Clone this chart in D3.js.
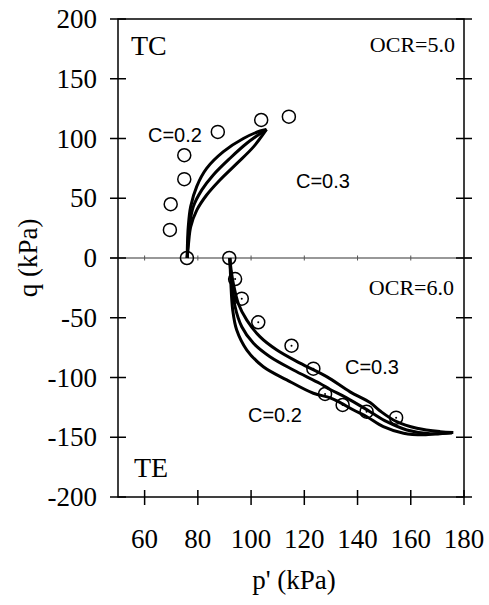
<!DOCTYPE html>
<html>
<head>
<meta charset="utf-8">
<script src="https://d3js.org/d3.v7.min.js"></script>
<style>
    body { margin: 0; background: #fff; }
</style>
</head>
<body>
<div id="chart"></div>
<script>
/*
----------------------------------------------------
    Data
----------------------------------------------------
*/
var xTicks = [60, 80, 100, 120, 140, 160, 180];
var yTicks = [-200, -150, -100, -50, 0, 50, 100, 150, 200];

// TC test, OCR = 5.0 : measured points
var tcPoints = [[75.9, 0], [69.5, 23.5], [69.8, 45], [74.9, 66], [74.9, 86],
    [87.5, 105.5], [103.8, 115.5], [114.2, 118.3]];

// TE test, OCR = 6.0 : measured points (dotted circles)
var tePoints = [[91.8, 0], [94, -17.6], [96.5, -34], [102.7, -53.8], [115.2, -73.4],
    [123.4, -92.6], [127.8, -113.8], [134.4, -123], [143.4, -128.6], [154.5, -133.6]];

// TC simulated paths, C = 0.2 / 0.25 / 0.3
var tcC02 = [[76, 0], [76.1, 12], [76.4, 26], [77.3, 43], [79.6, 60], [83.3, 75],
    [89.6, 89], [97.1, 100], [103.4, 106.3], [105.8, 107.6]];
var tcC025 = [[76, 0], [76.3, 12], [76.8, 26], [78.3, 43], [81.5, 57], [85.8, 69.5],
    [92.1, 83.5], [98.4, 96], [104.3, 105.5], [105.8, 107.6]];
var tcC03 = [[76, 0], [76.5, 12], [77.3, 26], [79.6, 40], [83.3, 52.7], [88.3, 65.3],
    [94.6, 79], [100.9, 93], [105.8, 107.6]];

// TE simulated paths, C = 0.2 / 0.25 / 0.3
var teC02 = [[92, 0], [92.2, -10], [92.4, -21], [93.1, -43.5], [94.6, -60.3], [98.4, -77],
    [104.6, -91], [113.4, -102], [123.4, -113.2], [129.7, -117], [133.5, -121],
    [138.5, -127.2], [143.5, -132.8], [149.7, -141.2], [157.3, -146.7], [164.8, -148],
    [171, -147], [175.5, -146.3]];
var teC025 = [[92, 0], [92.3, -10], [92.9, -21], [94, -40.8], [96.5, -57.5], [100.9, -71.4],
    [107.1, -82.6], [115.9, -93.7], [125.9, -105], [129.7, -110], [135.9, -117],
    [144.7, -128.6], [151, -137], [158.5, -143.9], [167.3, -147], [175.5, -146.3]];
var teC03 = [[92, 0], [92.5, -10], [93.3, -21], [95.2, -38], [98.4, -52], [103.4, -66],
    [109.7, -77], [118.4, -88], [128.4, -99.3], [137.2, -112], [144.7, -121],
    [148.5, -128], [154.7, -137], [162.3, -142.5], [171, -145.3], [176, -146]];

/*
----------------------------------------------------
    Chart
----------------------------------------------------
*/
var width = 489, height = 605;
var plotLeft = 118, plotRight = 464, plotTop = 19, plotBottom = 497;
var serif = "Liberation Serif";
var sans = "Liberation Sans";

var svg = d3.select("#chart")
    .append("svg")
    .attr("width", width)
    .attr("height", height);

var x = d3.scaleLinear().domain([50, 180]).range([plotLeft, plotRight]);
var y = d3.scaleLinear().domain([-200, 200]).range([plotBottom, plotTop]);

// Frame (box)
svg.append("rect")
    .attr("x", plotLeft)
    .attr("y", plotTop)
    .attr("width", plotRight - plotLeft)
    .attr("height", plotBottom - plotTop)
    .attr("fill", "none")
    .attr("stroke", "#000")
    .attr("stroke-width", 1.5);

// Zero line with its small ticks
svg.append("line")
    .attr("x1", plotLeft - 8)
    .attr("x2", plotRight + 8)
    .attr("y1", y(0))
    .attr("y2", y(0))
    .attr("stroke", "#333")
    .attr("stroke-width", 1.2);

svg.selectAll(".zero-tick")
    .data(xTicks.filter(d => d < 180))
    .enter()
    .append("line")
    .attr("x1", d => x(d))
    .attr("x2", d => x(d))
    .attr("y1", y(0) - 2.5)
    .attr("y2", y(0) + 2.5)
    .attr("stroke", "#555")
    .attr("stroke-width", 1);

// Left and right ticks, crossing the frame lines
[plotLeft, plotRight].forEach(function (xPos) {
    svg.selectAll(null)
        .data(yTicks)
        .enter()
        .append("line")
        .attr("x1", xPos - 8)
        .attr("x2", xPos + 8)
        .attr("y1", d => y(d))
        .attr("y2", d => y(d))
        .attr("stroke", "#000")
        .attr("stroke-width", 1.5);
});

// Bottom ticks
svg.selectAll(".x-tick")
    .data(xTicks)
    .enter()
    .append("line")
    .attr("x1", d => x(d))
    .attr("x2", d => x(d))
    .attr("y1", plotBottom - 7)
    .attr("y2", plotBottom + 8)
    .attr("stroke", "#000")
    .attr("stroke-width", 1.5);

// Tick labels
svg.selectAll(".y-label")
    .data(yTicks)
    .enter()
    .append("text")
    .attr("x", 97)
    .attr("y", d => y(d))
    .attr("dy", "0.34em")
    .attr("text-anchor", "end")
    .attr("font-family", serif)
    .attr("font-size", 27)
    .text(d => d);

svg.selectAll(".x-label")
    .data(xTicks)
    .enter()
    .append("text")
    .attr("x", d => x(d))
    .attr("y", 548)
    .attr("text-anchor", "middle")
    .attr("font-family", serif)
    .attr("font-size", 27)
    .text(d => d);

// Axis titles
svg.append("text")
    .attr("x", 294)
    .attr("y", 589)
    .attr("text-anchor", "middle")
    .attr("font-family", serif)
    .attr("font-size", 27)
    .text("p' (kPa)");

svg.append("text")
    .attr("transform", "translate(37," + y(0) + ") rotate(-90)")
    .attr("text-anchor", "middle")
    .attr("font-family", serif)
    .attr("font-size", 27)
    .text("q (kPa)");

// Simulated curves
var line = d3.line()
    .x(d => x(d[0]))
    .y(d => y(d[1]))
    .curve(d3.curveCatmullRom.alpha(0.5));

[tcC02, tcC025, tcC03, teC02, teC025, teC03].forEach(function (path) {
    svg.append("path")
        .datum(path)
        .attr("d", line)
        .attr("fill", "none")
        .attr("stroke", "#000")
        .attr("stroke-width", 3)
        .attr("stroke-linejoin", "round");
});

// Measured points
svg.selectAll(".tc-pt")
    .data(tcPoints)
    .enter()
    .append("circle")
    .attr("cx", d => x(d[0]))
    .attr("cy", d => y(d[1]))
    .attr("r", 6.5)
    .attr("fill", "none")
    .attr("stroke", "#000")
    .attr("stroke-width", 1.5);

svg.selectAll(".te-pt")
    .data(tePoints)
    .enter()
    .append("circle")
    .attr("cx", d => x(d[0]))
    .attr("cy", d => y(d[1]))
    .attr("r", 6.5)
    .attr("fill", "none")
    .attr("stroke", "#000")
    .attr("stroke-width", 1.5);

svg.selectAll(".te-dot")
    .data(tePoints.slice(1))
    .enter()
    .append("circle")
    .attr("cx", d => x(d[0]))
    .attr("cy", d => y(d[1]))
    .attr("r", 1)
    .attr("fill", "#000");

// Annotations
var notes = [
    { text: "TC", x: 131, y: 55, font: serif, size: 28 },
    { text: "TE", x: 134, y: 477, font: serif, size: 28 },
    { text: "OCR=5.0", x: 455, y: 52, font: serif, size: 22, anchor: "end" },
    { text: "OCR=6.0", x: 454, y: 295, font: serif, size: 22, anchor: "end" },
    { text: "C=0.2", x: 148, y: 142, font: sans, size: 20 },
    { text: "C=0.3", x: 296, y: 188, font: sans, size: 20 },
    { text: "C=0.3", x: 345, y: 374, font: sans, size: 20 },
    { text: "C=0.2", x: 248, y: 422, font: sans, size: 20 }
];

notes.forEach(function (n) {
    svg.append("text")
        .attr("x", n.x)
        .attr("y", n.y)
        .attr("text-anchor", n.anchor || "start")
        .attr("font-family", n.font)
        .attr("font-size", n.size)
        .text(n.text);
});
</script>
</body>
</html>
